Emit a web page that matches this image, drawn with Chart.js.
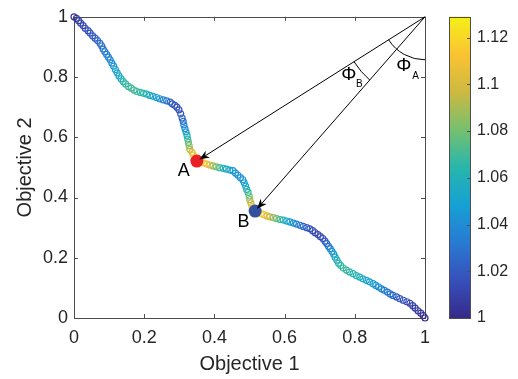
<!DOCTYPE html>
<html><head><meta charset="utf-8">
<script src="https://cdn.jsdelivr.net/npm/chart.js@4/dist/chart.umd.min.js"></script>
<style>
html,body{margin:0;padding:0;background:#fff;}
#wrap{position:relative;width:518px;height:379px;overflow:hidden;background:#fff;}
#main{position:absolute;left:0;top:0;}
#cb{position:absolute;left:430px;top:0;}
</style></head>
<body><div id="wrap"><canvas id="main" width="440" height="379"></canvas><canvas id="cb" width="88" height="379"></canvas></div>
<script>
// ---- data ----
const obj1 = [0.000,0.007,0.013,0.019,0.026,0.032,0.040,0.046,0.053,0.060,0.067,0.074,0.079,0.083,0.088,0.093,0.098,0.103,0.108,0.113,0.118,0.123,0.128,0.134,0.140,0.147,0.155,0.163,0.171,0.179,0.189,0.198,0.207,0.216,0.225,0.235,0.244,0.254,0.264,0.274,0.280,0.287,0.293,0.299,0.304,0.308,0.311,0.313,0.316,0.319,0.322,0.324,0.326,0.328,0.330,0.336,0.340,0.346,0.350,0.360,0.369,0.378,0.387,0.396,0.405,0.415,0.425,0.434,0.444,0.453,0.460,0.467,0.474,0.481,0.485,0.489,0.492,0.496,0.499,0.501,0.504,0.507,0.510,0.516,0.524,0.533,0.541,0.550,0.558,0.568,0.577,0.587,0.596,0.606,0.615,0.625,0.634,0.644,0.653,0.663,0.672,0.680,0.687,0.695,0.702,0.709,0.715,0.720,0.725,0.730,0.735,0.740,0.744,0.749,0.754,0.760,0.767,0.776,0.785,0.795,0.804,0.814,0.823,0.833,0.842,0.852,0.860,0.868,0.876,0.884,0.893,0.901,0.909,0.919,0.928,0.938,0.948,0.957,0.965,0.972,0.980,0.988,0.995,1.000];
const obj2 = [1.000,0.995,0.987,0.979,0.971,0.962,0.954,0.946,0.937,0.929,0.921,0.912,0.903,0.893,0.884,0.875,0.866,0.857,0.846,0.836,0.825,0.814,0.804,0.794,0.785,0.777,0.769,0.763,0.757,0.752,0.749,0.746,0.743,0.739,0.736,0.732,0.728,0.724,0.721,0.717,0.711,0.706,0.700,0.691,0.678,0.664,0.653,0.641,0.629,0.618,0.606,0.594,0.583,0.572,0.560,0.550,0.541,0.531,0.521,0.518,0.515,0.511,0.508,0.505,0.502,0.499,0.497,0.494,0.491,0.489,0.481,0.474,0.466,0.459,0.449,0.438,0.427,0.417,0.405,0.393,0.382,0.370,0.358,0.355,0.351,0.347,0.343,0.339,0.336,0.333,0.330,0.327,0.325,0.322,0.319,0.315,0.312,0.308,0.304,0.300,0.296,0.290,0.283,0.277,0.270,0.264,0.255,0.247,0.238,0.230,0.221,0.212,0.202,0.192,0.182,0.174,0.166,0.159,0.153,0.147,0.141,0.136,0.130,0.125,0.120,0.114,0.108,0.103,0.097,0.092,0.086,0.080,0.075,0.070,0.064,0.059,0.054,0.049,0.041,0.033,0.024,0.016,0.008,0.000];
const ratio = [1.005,1.006,1.008,1.010,1.012,1.014,1.016,1.018,1.020,1.022,1.024,1.026,1.028,1.030,1.032,1.034,1.036,1.038,1.041,1.044,1.048,1.052,1.056,1.060,1.064,1.067,1.069,1.070,1.070,1.069,1.067,1.064,1.061,1.057,1.053,1.048,1.043,1.037,1.031,1.026,1.022,1.019,1.017,1.017,1.019,1.023,1.028,1.034,1.041,1.049,1.057,1.066,1.075,1.084,1.093,1.102,1.110,1.116,1.120,1.120,1.117,1.110,1.100,1.090,1.080,1.070,1.062,1.055,1.050,1.046,1.043,1.041,1.041,1.043,1.047,1.053,1.060,1.068,1.077,1.087,1.097,1.106,1.113,1.118,1.120,1.118,1.112,1.104,1.096,1.087,1.078,1.069,1.061,1.054,1.048,1.042,1.036,1.031,1.026,1.022,1.018,1.015,1.013,1.012,1.013,1.015,1.019,1.024,1.030,1.036,1.042,1.048,1.054,1.059,1.064,1.067,1.068,1.068,1.066,1.064,1.062,1.059,1.056,1.053,1.050,1.047,1.044,1.041,1.038,1.035,1.032,1.029,1.026,1.023,1.020,1.017,1.014,1.012,1.010,1.008,1.006,1.004,1.002,1.000];
const pointA = [0.350, 0.521];
const pointB = [0.516, 0.355];
const refPoint = [1, 1];
const xTicks = [0, 0.2, 0.4, 0.6, 0.8, 1];
const xTickLabels = ['0', '0.2', '0.4', '0.6', '0.8', '1'];
const yTicks = [0, 0.2, 0.4, 0.6, 0.8, 1];
const yTickLabels = ['0', '0.2', '0.4', '0.6', '0.8', '1'];
const cbTicks = [1, 1.02, 1.04, 1.06, 1.08, 1.1, 1.12];
const cbTickLabels = ['1', '1.02', '1.04', '1.06', '1.08', '1.1', '1.12'];
const cbRange = [1, 1.129];
const xTitle = 'Objective 1';
const yTitle = 'Objective 2';
const labelA = 'A', labelB = 'B';
const phiText = 'Φ';

// ---- styling ----
const FONT = "'Liberation Sans', Arial, sans-serif";
const AXIS_COLOR = '#262626';
const BOX_COLOR = '#4d4d4d';
const parulaStops = [
  [0.000, [53, 42, 135]],
  [0.125, [55, 80, 188]],
  [0.250, [40, 122, 210]],
  [0.375, [22, 160, 212]],
  [0.500, [40, 182, 172]],
  [0.625, [118, 192, 110]],
  [0.750, [205, 185, 65]],
  [0.875, [250, 195, 50]],
  [1.000, [245, 240, 25]]
];
function parula(t) {
  t = Math.max(0, Math.min(1, t));
  for (let i = 1; i < parulaStops.length; i++) {
    const [t1, c1] = parulaStops[i];
    const [t0, c0] = parulaStops[i - 1];
    if (t <= t1) {
      const f = (t - t0) / (t1 - t0);
      const c = c0.map((v, k) => Math.round(v + (c1[k] - v) * f));
      return `rgb(${c[0]},${c[1]},${c[2]})`;
    }
  }
  const c = parulaStops[parulaStops.length - 1][1];
  return `rgb(${c[0]},${c[1]},${c[2]})`;
}
const normRatio = v => (v - cbRange[0]) / (cbRange[1] - cbRange[0]);

const curvePts = obj1.map((x, i) => ({x, y: obj2[i]}));
const curveColors = ratio.map(v => parula(normRatio(v)));

// ---- plugins ----
const boxPlugin = {
  id: 'box',
  beforeDatasetsDraw(chart) {
    const {ctx, chartArea: a, scales: {x, y}} = chart;
    ctx.save();
    ctx.strokeStyle = BOX_COLOR;
    ctx.lineWidth = 1;
    ctx.strokeRect(Math.round(a.left) + 0.5, Math.round(a.top) + 0.5, Math.round(a.right - a.left), Math.round(a.bottom - a.top));
    ctx.beginPath();
    const tl = 4;
    xTicks.forEach(v => {
      const px = Math.round(x.getPixelForValue(v)) + 0.5;
      ctx.moveTo(px, a.bottom); ctx.lineTo(px, a.bottom - tl);
      ctx.moveTo(px, a.top); ctx.lineTo(px, a.top + tl);
    });
    yTicks.forEach(v => {
      const py = Math.round(y.getPixelForValue(v)) + 0.5;
      ctx.moveTo(a.left, py); ctx.lineTo(a.left + tl, py);
      ctx.moveTo(a.right, py); ctx.lineTo(a.right - tl, py);
    });
    ctx.stroke();
    ctx.restore();
  }
};

function drawArrow(ctx, x0, y0, x1, y1) {
  const ang = Math.atan2(y1 - y0, x1 - x0);
  const L = 10, W = 4, notch = 7;
  const ca = Math.cos(ang), sa = Math.sin(ang);
  ctx.beginPath();
  ctx.moveTo(x0, y0);
  ctx.lineTo(x1 - ca * notch, y1 - sa * notch);
  ctx.stroke();
  ctx.beginPath();
  ctx.moveTo(x1, y1);
  ctx.lineTo(x1 - ca * L - sa * W, y1 - sa * L + ca * W);
  ctx.lineTo(x1 - ca * notch, y1 - sa * notch);
  ctx.lineTo(x1 - ca * L + sa * W, y1 - sa * L - ca * W);
  ctx.closePath();
  ctx.fill();
}

const annotPlugin = {
  id: 'annot',
  afterDatasetsDraw(chart) {
    const {ctx, scales: {x, y}} = chart;
    const P = [x.getPixelForValue(refPoint[0]), y.getPixelForValue(refPoint[1])];
    const A = [x.getPixelForValue(pointA[0]), y.getPixelForValue(pointA[1])];
    const B = [x.getPixelForValue(pointB[0]), y.getPixelForValue(pointB[1])];
    ctx.save();
    ctx.strokeStyle = '#000';
    ctx.fillStyle = '#000';
    ctx.lineWidth = 1;
    [A, B].forEach(T => {
      const ang = Math.atan2(T[1] - P[1], T[0] - P[0]);
      const back = 3;
      drawArrow(ctx, P[0], P[1], T[0] - Math.cos(ang) * back, T[1] - Math.sin(ang) * back);
    });
    const angA = Math.atan2(A[1] - P[1], A[0] - P[0]);
    const angB = Math.atan2(B[1] - P[1], B[0] - P[0]);
    ctx.beginPath();
    ctx.arc(P[0], P[1], 43, Math.PI / 2, angA);
    ctx.stroke();
    ctx.beginPath();
    ctx.arc(P[0], P[1], 84, angB, angA);
    ctx.stroke();
    // labels
    ctx.fillStyle = '#000';
    ctx.textBaseline = 'middle';
    ctx.textAlign = 'center';
    ctx.font = `18px ${FONT}`;
    ctx.fillText(labelA, x.getPixelForValue(0.313), y.getPixelForValue(0.488));
    ctx.fillText(labelB, x.getPixelForValue(0.483), y.getPixelForValue(0.320));
    ctx.font = `19px ${FONT}`;
    ctx.fillText(phiText, x.getPixelForValue(0.940), y.getPixelForValue(0.838));
    ctx.fillText(phiText, x.getPixelForValue(0.783), y.getPixelForValue(0.808));
    ctx.font = `10px ${FONT}`;
    ctx.fillText(labelA, x.getPixelForValue(0.973), y.getPixelForValue(0.803));
    ctx.fillText(labelB, x.getPixelForValue(0.813), y.getPixelForValue(0.776));
    ctx.restore();
  }
};

new Chart(document.getElementById('main'), {
  type: 'scatter',
  data: {
    datasets: [
      {data: curvePts, pointStyle: 'circle', pointRadius: 3, pointBorderWidth: 1.2,
       pointBackgroundColor: 'rgba(0,0,0,0)', pointBorderColor: curveColors, showLine: false, clip: false, order: 3},
      {data: [{x: pointA[0], y: pointA[1]}], pointRadius: 6.5, pointBorderWidth: 0,
       pointBackgroundColor: '#ea2027', pointBorderColor: '#ea2027', clip: false, order: 2},
      {data: [{x: pointB[0], y: pointB[1]}], pointRadius: 6.5, pointBorderWidth: 0,
       pointBackgroundColor: '#33509f', pointBorderColor: '#33509f', clip: false, order: 1}
    ]
  },
  options: {
    responsive: false, animation: false, devicePixelRatio: 1,
    layout: {padding: {top: 11, right: 15, left: 0, bottom: 0}},
    plugins: {legend: {display: false}, tooltip: {enabled: false}},
    scales: {
      x: {
        type: 'linear', min: 0, max: 1,
        afterBuildTicks: s => { s.ticks = xTicks.map(v => ({value: v})); },
        ticks: {callback: (v, i) => xTickLabels[i], font: {family: FONT, size: 18}, color: AXIS_COLOR, padding: 9, maxRotation: 0, autoSkip: false},
        grid: {display: false, drawTicks: false}, border: {display: false},
        title: {display: true, text: xTitle, font: {family: FONT, size: 20}, color: AXIS_COLOR, padding: {top: 0, bottom: 3}},
        afterFit: s => { s.height = 61; }
      },
      y: {
        type: 'linear', min: 0, max: 1,
        afterBuildTicks: s => { s.ticks = yTicks.map(v => ({value: v})); },
        ticks: {callback: (v, i) => yTickLabels[i], font: {family: FONT, size: 18}, color: AXIS_COLOR, padding: 6, autoSkip: false},
        grid: {display: false, drawTicks: false}, border: {display: false},
        title: {display: true, text: yTitle, font: {family: FONT, size: 20}, color: AXIS_COLOR, padding: {top: 13, bottom: 0}},
        afterFit: s => { s.width = 74; }
      }
    }
  },
  plugins: [boxPlugin, annotPlugin]
});

// ---- colorbar ----
const cbPlugin = {
  id: 'cbar',
  beforeDatasetsDraw(chart) {
    const {ctx, chartArea: a, scales: {y}} = chart;
    const g = ctx.createLinearGradient(0, a.bottom, 0, a.top);
    parulaStops.forEach(([t, c]) => g.addColorStop(t, `rgb(${c[0]},${c[1]},${c[2]})`));
    ctx.save();
    ctx.fillStyle = g;
    ctx.fillRect(a.left, a.top, a.right - a.left, a.bottom - a.top);
    ctx.strokeStyle = BOX_COLOR;
    ctx.lineWidth = 1;
    ctx.strokeRect(Math.round(a.left) + 0.5, Math.round(a.top) + 0.5, Math.round(a.right - a.left), Math.round(a.bottom - a.top));
    ctx.beginPath();
    cbTicks.forEach(v => {
      const py = Math.round(y.getPixelForValue(v)) + 0.5;
      ctx.moveTo(a.right, py); ctx.lineTo(a.right - 3, py);
    });
    ctx.stroke();
    ctx.restore();
  }
};
new Chart(document.getElementById('cb'), {
  type: 'scatter',
  data: {datasets: [{data: []}]},
  options: {
    responsive: false, animation: false, devicePixelRatio: 1,
    layout: {padding: {top: 11, left: 19, right: 0, bottom: 61}},
    plugins: {legend: {display: false}, tooltip: {enabled: false}},
    scales: {
      x: {display: false, min: 0, max: 1},
      y: {
        position: 'right', min: cbRange[0], max: cbRange[1],
        afterBuildTicks: s => { s.ticks = cbTicks.map(v => ({value: v})); },
        ticks: {callback: (v, i) => cbTickLabels[i], font: {family: FONT, size: 16}, color: AXIS_COLOR, padding: 7, autoSkip: false},
        grid: {display: false, drawTicks: false}, border: {display: false},
        afterFit: s => { s.width = 48; }
      }
    }
  },
  plugins: [cbPlugin]
});
</script>
</body></html>
